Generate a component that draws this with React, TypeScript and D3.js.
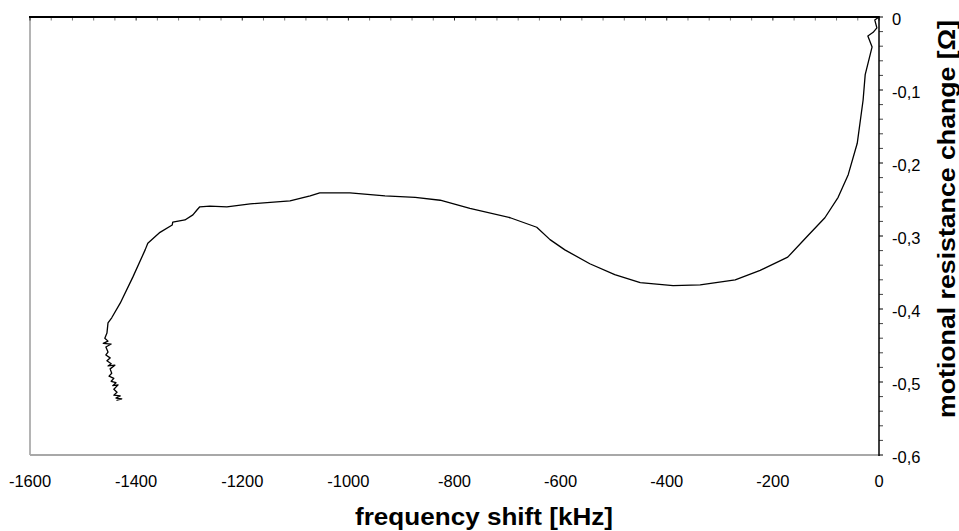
import React from "react";
import * as d3 from "d3";

// frequency shift [kHz] and motional resistance change [Ω], in measurement order
const freqShift = [
  0, -8, -4, -11, -21, -13, -26, -30, -41, -58, -77, -102, -136, -172, -224, -271, -337, -388,
  -450, -498, -545, -592, -620, -645, -695, -771, -827, -874, -931, -997, -1054, -1072, -1110,
  -1185, -1229, -1261, -1280, -1285, -1293, -1308, -1331, -1332, -1355, -1378, -1383, -1406,
  -1430, -1446, -1453, -1455,
  -1459, -1453, -1462, -1447, -1457, -1453, -1457, -1449, -1455, -1447, -1453, -1440, -1449,
  -1446, -1451, -1442, -1447, -1438, -1444, -1434, -1442, -1436, -1442, -1430, -1438, -1427, -1436,
];
const resistanceChange = [
  0, -0.004, -0.015, -0.021, -0.026, -0.041, -0.079, -0.114, -0.173, -0.216, -0.247, -0.275,
  -0.301, -0.329, -0.347, -0.36, -0.367, -0.368, -0.364, -0.353, -0.338, -0.319, -0.305, -0.288,
  -0.275, -0.262, -0.251, -0.247, -0.245, -0.241, -0.241, -0.245, -0.252, -0.256, -0.26, -0.259,
  -0.26, -0.264, -0.271, -0.278, -0.281, -0.285, -0.295, -0.31, -0.319, -0.356, -0.392, -0.412,
  -0.419, -0.433,
  -0.44, -0.444, -0.447, -0.448, -0.452, -0.459, -0.463, -0.467, -0.471, -0.475, -0.478, -0.477,
  -0.482, -0.488, -0.492, -0.495, -0.499, -0.501, -0.505, -0.504, -0.51, -0.514, -0.518, -0.519,
  -0.522, -0.523, -0.525,
];

const xTickValues = [-1600, -1400, -1200, -1000, -800, -600, -400, -200, 0];
const xTickLabels = ["-1600", "-1400", "-1200", "-1000", "-800", "-600", "-400", "-200", "0"];
const yTickValues = [0, -0.1, -0.2, -0.3, -0.4, -0.5, -0.6];
const yTickLabels = ["0", "-0,1", "-0,2", "-0,3", "-0,4", "-0,5", "-0,6"];
const xLabel = "frequency shift [kHz]";
const yLabel = "motional resistance change [Ω]";

const W = 959;
const H = 531;
const L = 30, R = 879, T = 17, B = 455;
const FONT = "'Liberation Sans', Arial, Helvetica, sans-serif";

export default function App() {
  const x = d3.scaleLinear().domain([-1600, 0]).range([L, R]);
  const y = d3.scaleLinear().domain([0, -0.6]).range([T, B]);
  const pts = freqShift.map((f, i) => [f, resistanceChange[i]] as [number, number]);
  const line = d3
    .line<[number, number]>()
    .x((d) => x(d[0]))
    .y((d) => y(d[1]));
  const topMinor = d3.range(-1600, 1, 40);
  const rightMinor = d3.range(0, 31).map((i) => -i * 0.02);

  return (
    <svg
      width={W}
      height={H}
      viewBox={`0 0 ${W} ${H}`}
      style={{ position: "absolute", left: 0, top: 0, background: "#fff" }}
    >
      <rect x={0} y={0} width={W} height={H} fill="#fff" />
      {/* frame: left and bottom grey */}
      <line x1={L} y1={T} x2={L} y2={B} stroke="#b4b4b4" strokeWidth={2} />
      <line x1={L} y1={B} x2={R} y2={B} stroke="#a8a8a8" strokeWidth={2} />
      {/* top axis black with inward ticks */}
      {topMinor.map((v, i) => (
        <line
          key={"tt" + i}
          x1={x(v)}
          x2={x(v)}
          y1={T}
          y2={T + 3.5}
          stroke={Math.round(v) % 200 === 0 ? "#222" : "#777"}
          strokeWidth={1}
        />
      ))}
      <line x1={L - 1} y1={T} x2={R} y2={T} stroke="#000" strokeWidth={2} />
      {/* right axis */}
      {rightMinor.map((v, i) => (
        <line
          key={"rt" + i}
          x1={R}
          x2={R + 4}
          y1={y(v)}
          y2={y(v)}
          stroke={i % 5 === 0 ? "#000" : "#444"}
          strokeWidth={1}
        />
      ))}
      <line x1={R} y1={T - 1} x2={R} y2={B + 1} stroke="#000" strokeWidth={1.5} />
      {/* data */}
      <path
        d={line(pts) || ""}
        fill="none"
        stroke="#000"
        strokeWidth={1.3}
        strokeLinejoin="round"
        strokeLinecap="round"
      />
      {/* x tick labels */}
      {xTickValues.map((v, i) => (
        <text
          key={"xl" + i}
          x={x(v)}
          y={487}
          textAnchor="middle"
          fontFamily={FONT}
          fontSize={16.5}
          fill="#000"
        >
          {xTickLabels[i]}
        </text>
      ))}
      {/* y tick labels */}
      {yTickValues.map((v, i) => (
        <text
          key={"yl" + i}
          x={892}
          y={y(v) + 8}
          textAnchor="start"
          fontFamily={FONT}
          fontSize={16.5}
          fill="#000"
        >
          {yTickLabels[i]}
        </text>
      ))}
      <text
        x={484}
        y={525}
        textAnchor="middle"
        fontFamily={FONT}
        fontSize={23}
        fontWeight="bold"
        fill="#000"
        textLength={258}
        lengthAdjust="spacingAndGlyphs"
      >
        {xLabel}
      </text>
      <text
        transform={`translate(955, 219) rotate(-90)`}
        textAnchor="middle"
        fontFamily={FONT}
        fontSize={23}
        fontWeight="bold"
        fill="#000"
        textLength={398}
        lengthAdjust="spacingAndGlyphs"
      >
        {yLabel}
      </text>
    </svg>
  );
}
